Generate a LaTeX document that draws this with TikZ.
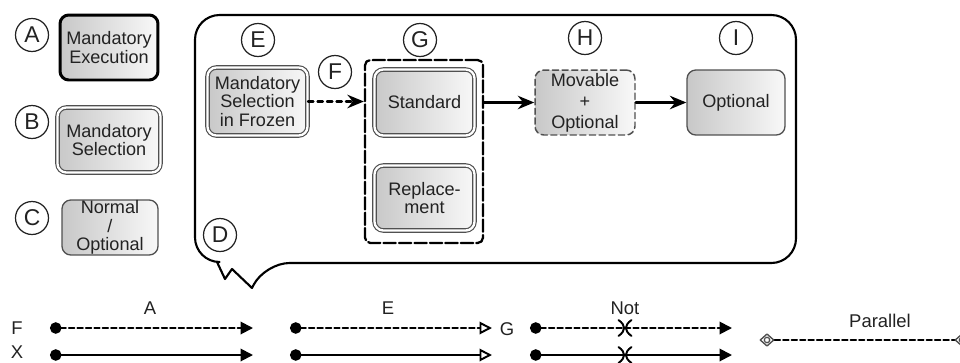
\documentclass[tikz,border=0pt]{standalone}
\usepackage{fontspec}
\setsansfont{Liberation Sans}
\usetikzlibrary{arrows.meta,shapes.geometric}
\definecolor{ink}{HTML}{222222}
\definecolor{rim}{HTML}{505050}
\definecolor{shadeL}{HTML}{C8C8C8}
\definecolor{shadeR}{HTML}{F8F8F8}

\tikzset{
  notmark/.pic={
    \draw[line width=1.1pt,solid] (-6.5,-8) .. controls (1,-2.5) and (1,2.5) .. (-6.5,8);
    \draw[line width=1.1pt,solid] (6.5,-8) .. controls (-1,-2.5) and (-1,2.5) .. (6.5,8);
  }
}

\begin{document}
\begin{tikzpicture}[x=0.02cm,y=-0.02cm,>=Latex,line cap=round,line join=round,font=\sffamily,
  tag/.style={circle,draw=ink,line width=0.7pt,inner sep=0pt,minimum size=0.66cm,
    text=ink,font=\sffamily\fontsize{13}{13}\selectfont},
  act/.style={rounded corners=5pt,left color=shadeL,right color=shadeR,text=ink,
    align=center,inner sep=0pt,font=\sffamily\fontsize{10.3}{10.6}\selectfont},
  mexec/.style={act,draw=black,line width=1.7pt},
  msel/.style={act,draw=rim,double=white,double distance=1.3pt,line width=0.65pt},
  plainbox/.style={act,draw=rim,line width=0.75pt},
  movbox/.style={act,draw=rim,line width=0.85pt,dash pattern=on 3.5pt off 2pt,
    font=\sffamily\fontsize{10.3}{12}\selectfont},
  grpbox/.style={draw=black,line width=1.3pt,rounded corners=3pt,
    dash pattern=on 7pt off 1.8pt,minimum width=2.36cm,minimum height=3.66cm},
  callout/.style={draw=black,line width=1.2pt},
  flow/.style={line width=1.4pt,-{Stealth[length=3.3mm,width=2.7mm,inset=1.1mm]}},
  leg/.style={line width=1.1pt,draw=black},
  legdash/.style={leg,dash pattern=on 3.1pt off 1.7pt},
  legsolid/.style={leg},
  dotfill/.style={{Circle[length=2.3mm]}-{Triangle[length=2.5mm,width=2.5mm]}},
  dotopen/.style={{Circle[length=2.3mm]}-{Triangle[open,length=2.5mm,width=2.5mm]}},
  legtxt/.style={text=ink,font=\sffamily\fontsize{10.5}{10.5}\selectfont},
  pend/.style={diamond,draw=rim,line width=0.8pt,inner sep=0pt,minimum width=0.28cm,
    minimum height=0.25cm,fill=white,
    path picture={\draw[rim,line width=0.7pt] (path picture bounding box.center) circle (2.7);}}]
  \useasboundingbox (0,0) rectangle (960,362);

  % Legend of the activity kinds.
  \node[tag] (tA) at (32,35) {A};
  \node[tag] (tB) at (32,122) {B};
  \node[tag] (tC) at (32,218) {C};
  \node[mexec,minimum width=1.96cm,minimum height=1.3cm] (boxA) at (109,47.5)
    {Mandatory\\Execution};
  \node[msel,minimum width=2.06cm,minimum height=1.3cm] (boxB) at (109,140)
    {Mandatory\\Selection};
  \node[plainbox,minimum width=1.92cm,minimum height=1.1cm] (boxC) at (110,227.5)
    {Normal\\/\\Optional};

  % Callout frame with the jagged tail.
  \draw[callout,rounded corners=14] (195,140) -- (195,15) -- (796,15) -- (796,263)
    -- (265,263) [sharp corners] -- (252,288) -- (232,269) -- (225,279) -- (217,262)
    [rounded corners=14] -- (195,262) -- cycle;

  \node[tag] (tD) at (220,235) {D};
  \node[tag] (tE) at (258,40) {E};
  \node[tag] (tF) at (335,72) {F};
  \node[tag] (tG) at (420,40) {G};
  \node[tag] (tH) at (585,38) {H};
  \node[tag] (tI) at (736,38) {I};

  \node[msel,minimum width=2.0cm,minimum height=1.36cm] (ebox) at (257.5,101.5)
    {Mandatory\\Selection\\in Frozen};
  \node[grpbox] (grp) at (424,151.5) {};
  \node[msel,minimum width=2.0cm,minimum height=1.32cm] (std) at (424.5,102.5)
    {Standard};
  \node[msel,minimum width=2.0cm,minimum height=1.3cm] (rep) at (424.5,198)
    {Replace-\\ment};
  \node[movbox,minimum width=2.0cm,minimum height=1.3cm] (hbox) at (585,102.5)
    {Movable\\+\\Optional};
  \node[plainbox,minimum width=1.96cm,minimum height=1.3cm] (ibox) at (736,102.5)
    {Optional};

  \draw[flow,dash pattern=on 3pt off 2.4pt] (ebox.east) -- (ebox.east -| grp.west);
  \draw[flow] (std.east -| grp.east) -- (hbox.west);
  \draw[flow] (hbox.east) -- (ibox.west);

  % Legend of the connectors.
  \node[legtxt] (lA) at (150,308) {A};
  \node[legtxt] (lE) at (388,308) {E};
  \node[legtxt] (lNot) at (625,308) {Not};
  \node[legtxt] (lPar) at (880,321) {Parallel};
  \node[legtxt] (lG) at (507,329) {G};
  \node[legtxt] (lF) at (17,328) {F};
  \node[legtxt] (lX) at (17,352) {X};
  \foreach \row/\y/\pat in {F/328/legdash,X/355/legsolid}{
    \coordinate (a\row0) at (50,\y);
    \coordinate (a\row1) at (253,\y);
    \coordinate (e\row0) at (290,\y);
    \coordinate (e\row1) at (492,\y);
    \coordinate (n\row0) at (530,\y);
    \coordinate (n\row1) at (732,\y);
    \coordinate (nx\row) at (625,\y);
    \draw[\pat,dotfill] (a\row0) -- (a\row1);
    \draw[\pat,dotopen] (e\row0) -- (e\row1);
    \draw[\pat,dotfill] (n\row0) -- (n\row1);
    \pic at (nx\row) {notmark};
  }
  \node[pend] (par0) at (767,340) {};
  \node[pend] (par1) at (962,340) {};
  \draw[legdash] (par0) -- (par1);
\end{tikzpicture}
\end{document}
